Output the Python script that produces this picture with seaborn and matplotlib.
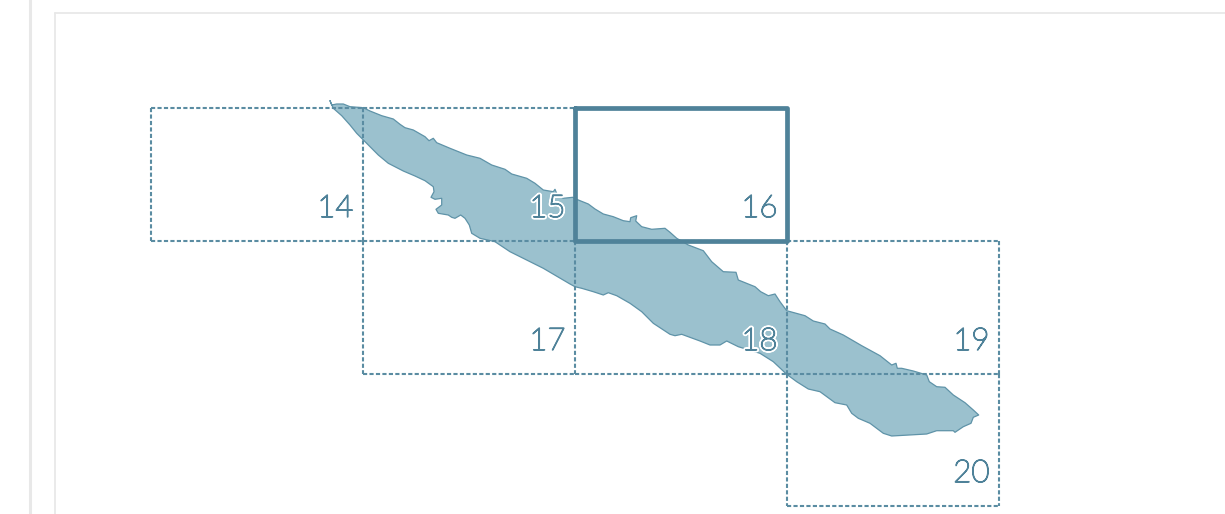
import pandas as pd
import seaborn as sns
import matplotlib.pyplot as plt
import matplotlib.patheffects as pe

# ---- Data (pixel coordinates) ----
# coast, clockwise from the north-west tip
island_x = [330, 331.7, 336.7, 343.3, 350, 363.3, 370, 381.7, 393.3, 400, 405, 413.3, 425, 429, 433.3, 436.7,
            450, 466.7, 480, 491.7, 505, 511.7, 526.7, 535, 543.3, 553.3, 555, 557.3, 563.3, 572.7,
            578.3, 588.3, 595, 603.3, 613.3, 623.3, 630, 630.7, 636.7, 635.7, 641.7, 651.7, 665, 670, 676.7, 688.3,
            703.3, 711.7, 723.3, 736, 738.3, 748.3, 755, 760.7, 768.3, 775, 780, 786.7,
            805, 813.3, 825, 830, 843.3, 861.7, 880, 891.7, 896, 897.3, 901.7, 913.3, 926.7, 929.3, 936.7, 945,
            953.3, 965, 973.3, 978.7, 973.3, 971, 963.3, 955, 953.3, 936.7, 926.7, 891.7, 883.3,
            870, 858.3, 851.7, 846.7, 835, 820, 808.3, 796.7, 786.7,
            773.3, 760, 738.3, 726.7, 720, 710, 700, 690, 681.7, 675, 670, 653.3, 641.7, 630, 616.7, 608.3, 603.3,
            593.3, 581.7, 575, 570, 543.3, 526.7, 510, 495, 480, 471.7, 469.3, 465, 460.7, 455, 451.7, 448.3,
            438.3, 436, 441.7, 441.7, 435, 431, 434, 433.3, 425, 415, 403.3, 388.3, 378.3, 363.3, 356.7, 350,
            341.7, 333.3]
island_y = [100.7, 105, 104, 104, 106.7, 107.7, 111, 115.7, 119, 124.3, 127.7, 130, 136.7, 140.7, 138.3, 142.7,
            148.3, 155, 158.3, 165, 169.3, 174, 178.3, 183.3, 190, 191.7, 189.3, 195, 198.3, 197.3,
            200, 204, 209, 214, 216.7, 220.7, 221.7, 217.7, 215.7, 221, 226.7, 229.3, 228.3, 232.3, 238.3, 245,
            250.7, 261.7, 271.7, 272.3, 280, 284, 286.7, 291.7, 295.7, 294, 301.7, 310.7,
            315.7, 321, 324, 329, 335, 345.7, 355.7, 365, 363.3, 368.3, 368.3, 371, 375, 381.7, 386.7, 387.3,
            395, 402.7, 410, 415, 417.3, 423.3, 426.7, 432.3, 430.7, 430.7, 434, 436, 433.3,
            423.3, 418.3, 413.3, 405, 402.7, 391.7, 389, 381.7, 374.3,
            361.7, 353.3, 346.7, 341, 345, 345, 341, 337.3, 334.3, 335.7, 334.3, 323.3, 311.7, 303.3, 295.7, 292.7, 295,
            291.7, 288.3, 286.7, 284, 268.3, 260, 251.7, 241.7, 238.3, 233.3, 225, 218.3, 215, 218.3, 217.3, 215,
            213.3, 209.3, 205, 198.3, 199.3, 197.3, 191.7, 186.7, 180.7, 176, 171, 163.3, 155, 140, 133.3, 125,
            115.7, 108.3]

sheet_labels = ["14", "15", "16", "17", "18", "19", "20"]
sheet_left = [151, 363, 575, 363, 575, 787, 787]
sheet_top = [108, 108, 108, 241, 241, 241, 374]
sheet_right = [363, 575, 787, 575, 787, 999, 999]
sheet_bottom = [241, 241, 241, 374, 374, 374, 506]
selected_sheet = "16"
labels_on_island = ["15", "18"]

teal = "#4f8299"
dash_teal = "#5a8ca2"
fill_teal = "#9bc1ce"
outline_teal = "#5f93a8"
page_line = "#e8e8e8"

# ---- Plot ----
sns.set_theme(style="white")
plt.rcParams["font.family"] = ["Lato", "DejaVu Sans"]

fig = plt.figure(figsize=(12.25, 5.14), dpi=100, facecolor="white")
ax = fig.add_axes([0, 0, 1, 1])

# page frame behind the map
ax.plot([30, 30], [0, 514], color=page_line, lw=2.2, zorder=1)
ax.plot([55, 55], [13, 514], color=page_line, lw=1.3, zorder=1)
ax.plot([55, 1225], [13, 13], color=page_line, lw=1.3, zorder=1)

outline = pd.DataFrame({"x": island_x + island_x[:1], "y": island_y + island_y[:1]})
ax.fill(outline["x"], outline["y"], color=fill_teal, lw=0, zorder=2)
sns.lineplot(data=outline, x="x", y="y", sort=False, estimator=None, color=outline_teal,
             lw=0.9, ax=ax, zorder=3)

# neighbouring sheets share edges, draw each edge once so the dashes stay open
edges = set()
for name, x0, y0, x1, y1 in zip(sheet_labels, sheet_left, sheet_top, sheet_right, sheet_bottom):
    if name != selected_sheet:
        edges |= {(x0, y0, x1, y0), (x0, y1, x1, y1), (x0, y0, x0, y1), (x1, y0, x1, y1)}
for x0, y0, x1, y1 in sorted(edges):
    ax.plot([x0, x1], [y0, y1], color=dash_teal, lw=1.5, linestyle=(0, (2.0, 1.1)),
            dash_capstyle="butt", zorder=4)

# selected sheet goes on top
i = sheet_labels.index(selected_sheet)
ax.plot([sheet_left[i], sheet_right[i], sheet_right[i], sheet_left[i], sheet_left[i]],
        [sheet_top[i], sheet_top[i], sheet_bottom[i], sheet_bottom[i], sheet_top[i]],
        color=teal, lw=3.4, solid_joinstyle="round", solid_capstyle="round", zorder=5)

# hairline cut of the font thickened with a thin stroke, closer to the light numerals
for name, x1, y1 in zip(sheet_labels, sheet_right, sheet_bottom):
    t = ax.text(x1 - 9.5, y1 - 32.5, name, ha="right", va="center", fontsize=22.5, color=teal,
                fontweight="light", zorder=6)
    effects = [pe.Stroke(linewidth=1.0, foreground=teal), pe.Normal()]
    if name in labels_on_island:
        effects = [pe.Stroke(linewidth=3.6, foreground="white")] + effects
    t.set_path_effects(effects)

ax.set_xlim(0, 1225)
ax.set_ylim(514, 0)
ax.set_xlabel("")
ax.set_ylabel("")
ax.axis("off")

fig.savefig("out.png", dpi=100, facecolor="white")
plt.close(fig)
